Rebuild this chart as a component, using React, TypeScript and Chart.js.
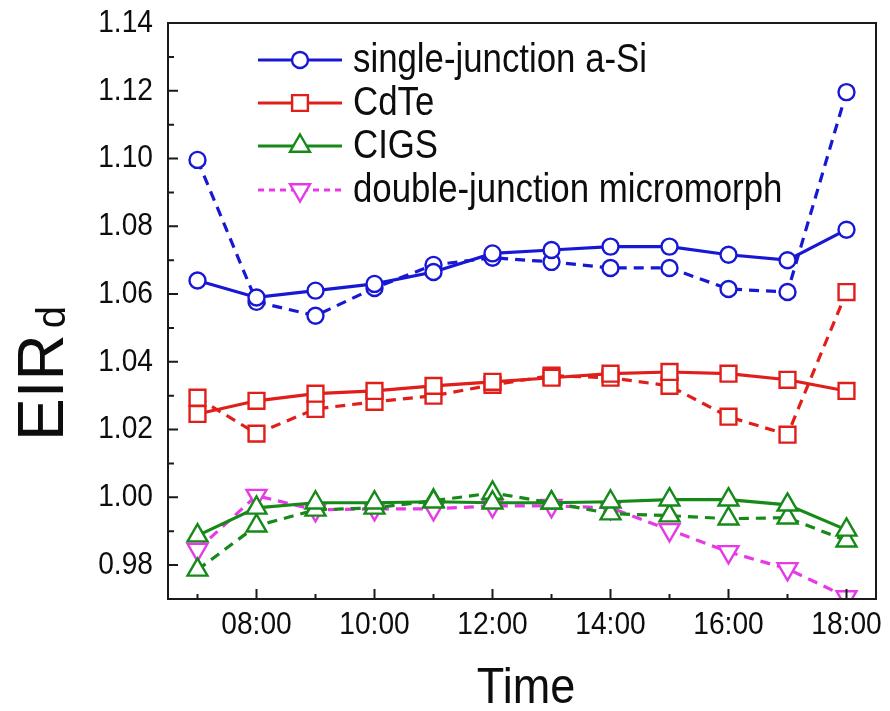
import React, { useEffect, useRef } from 'react';
import { Chart, registerables } from 'chart.js';

Chart.register(...registerables);

// ---- data ----
const hours = [7, 8, 9, 10, 11, 12, 13, 14, 15, 16, 17, 18];
const xTickHours = [8, 10, 12, 14, 16, 18];
const xTickLabels = ['08:00', '10:00', '12:00', '14:00', '16:00', '18:00'];
const yTickValues = [0.98, 1.0, 1.02, 1.04, 1.06, 1.08, 1.1, 1.12, 1.14];
const yTickLabels = ['0.98', '1.00', '1.02', '1.04', '1.06', '1.08', '1.10', '1.12', '1.14'];
const yMinorTicks = [0.97, 0.99, 1.01, 1.03, 1.05, 1.07, 1.09, 1.11, 1.13];

const aSiSolid = [1.064, 1.059, 1.061, 1.063, 1.0665, 1.072, 1.073, 1.074, 1.074, 1.0716, 1.070, 1.079];
const aSiDashed = [1.0996, 1.0577, 1.0536, 1.0618, 1.0686, 1.0707, 1.0695, 1.0677, 1.0677, 1.0615, 1.0606, 1.1196];
const cdteSolid = [1.0246, 1.0285, 1.0306, 1.0314, 1.0329, 1.0341, 1.0353, 1.0365, 1.037, 1.0365, 1.0347, 1.0314];
const cdteDashed = [1.0294, 1.0188, 1.0261, 1.0282, 1.03, 1.0332, 1.0359, 1.0353, 1.0329, 1.0238, 1.0185, 1.0606];
const cigsSolid = [0.9887, 0.9969, 0.9984, 0.9984, 0.9987, 0.9984, 0.9984, 0.9987, 0.9993, 0.9993, 0.9978, 0.9904];
const cigsDashed = [0.9786, 0.9916, 0.9963, 0.9969, 0.999, 1.0013, 0.9984, 0.9952, 0.9946, 0.9937, 0.994, 0.9872];
const micromorph = [0.9846, 1.0005, 0.9963, 0.9966, 0.9966, 0.9975, 0.9975, 0.9969, 0.9904, 0.9839, 0.9789, 0.9706];

const legendLabels = ['single-junction a-Si', 'CdTe', 'CIGS', 'double-junction micromorph'];
const xTitle = 'Time';
const yTitleMain = 'EIR';
const yTitleSub = 'd';

// ---- styles ----
const FONT = "'Liberation Sans', Arial, sans-serif";
const INK = '#0d0d0d';
const BLUE = '#1818d4';
const RED = '#e01e1a';
const GREEN = '#168a19';
const MAGENTA = '#e63ae6';
const DASH = [10, 7];

const legendStyles = [
  { color: BLUE, shape: 'circle', dash: [] as number[] },
  { color: RED, shape: 'rect', dash: [] as number[] },
  { color: GREEN, shape: 'triangle', dash: [] as number[] },
  { color: MAGENTA, shape: 'down', dash: [6, 5] },
];

function series(label: string, values: number[], color: string, shape: string, dashed: boolean, rotation = 0) {
  const radius = shape === 'circle' ? 8 : shape === 'rect' ? 11.2 : 11.5;
  return {
    label,
    data: hours.map((h, i) => ({ x: h, y: values[i] })),
    borderColor: color,
    backgroundColor: '#ffffff',
    borderWidth: 3.2,
    borderDash: dashed ? DASH : [],
    tension: 0,
    pointStyle: shape,
    pointRotation: rotation,
    pointRadius: radius,
    pointHoverRadius: radius,
    pointBorderWidth: 2.4,
    pointBackgroundColor: '#ffffff',
    pointBorderColor: color,
    clip: 0,
  };
}

function drawMarker(ctx: CanvasRenderingContext2D, shape: string, x: number, y: number) {
  ctx.beginPath();
  if (shape === 'circle') {
    ctx.arc(x, y, 8, 0, Math.PI * 2);
  } else if (shape === 'rect') {
    const s = 7.9;
    ctx.rect(x - s, y - s, 2 * s, 2 * s);
  } else {
    const r = 11.5;
    const rot = shape === 'down' ? Math.PI : 0;
    for (let k = 0; k < 3; k++) {
      const a = rot + (k * 2 * Math.PI) / 3;
      const px = x + Math.sin(a) * r;
      const py = y - Math.cos(a) * r;
      if (k === 0) ctx.moveTo(px, py);
      else ctx.lineTo(px, py);
    }
    ctx.closePath();
  }
  ctx.fill();
  ctx.stroke();
}

function squeezedText(
  ctx: CanvasRenderingContext2D,
  text: string,
  x: number,
  y: number,
  size: number,
  sx: number,
  align: CanvasTextAlign,
  baseline: CanvasTextBaseline,
) {
  ctx.save();
  ctx.translate(x, y);
  ctx.scale(sx, 1);
  ctx.font = `${size}px ${FONT}`;
  ctx.textAlign = align;
  ctx.textBaseline = baseline;
  ctx.fillStyle = INK;
  ctx.fillText(text, 0, 0);
  ctx.restore();
}

const decorPlugin = {
  id: 'decor',
  afterDraw(chart: any) {
    const { ctx, chartArea: a, scales } = chart;
    const xs = scales.x;
    const ys = scales.y;
    ctx.save();
    ctx.strokeStyle = '#1a1a1a';
    ctx.lineWidth = 2;
    ctx.setLineDash([]);
    ctx.beginPath();
    for (const h of hours) {
      const px = xs.getPixelForValue(h);
      const len = xTickHours.includes(h) ? 10 : 5;
      ctx.moveTo(px, a.bottom);
      ctx.lineTo(px, a.bottom - len);
    }
    for (const v of yTickValues) {
      const py = ys.getPixelForValue(v);
      ctx.moveTo(a.left, py);
      ctx.lineTo(a.left + 10, py);
    }
    for (const v of yMinorTicks) {
      const py = ys.getPixelForValue(v);
      ctx.moveTo(a.left, py);
      ctx.lineTo(a.left + 6, py);
    }
    ctx.stroke();
    ctx.strokeRect(a.left, a.top, a.right - a.left, a.bottom - a.top);

    // tick labels
    yTickValues.forEach((v, i) => {
      squeezedText(ctx, yTickLabels[i], a.left - 15, ys.getPixelForValue(v), 32, 0.88, 'right', 'middle');
    });
    xTickHours.forEach((h, i) => {
      squeezedText(ctx, xTickLabels[i], xs.getPixelForValue(h), a.bottom + 26, 32, 0.88, 'center', 'middle');
    });

    // x title
    squeezedText(ctx, xTitle, (a.left + a.right) / 2 + 4, 703, 50, 0.9, 'center', 'alphabetic');

    // legend
    const rowY = [60, 103, 146, 190];
    legendLabels.forEach((lab, i) => {
      const st = legendStyles[i];
      const y = rowY[i];
      ctx.strokeStyle = st.color;
      ctx.fillStyle = '#ffffff';
      ctx.lineWidth = 3.2;
      ctx.setLineDash(st.dash);
      ctx.beginPath();
      ctx.moveTo(258, y);
      ctx.lineTo(342, y);
      ctx.stroke();
      ctx.setLineDash([]);
      ctx.lineWidth = 2.4;
      drawMarker(ctx, st.shape, 300, y);
      squeezedText(ctx, lab, 353, y + 1, 40, 0.87, 'left', 'middle');
    });

    // y axis title EIR_d
    ctx.save();
    ctx.translate(63, 441);
    ctx.rotate(-Math.PI / 2);
    ctx.fillStyle = INK;
    ctx.textAlign = 'left';
    ctx.textBaseline = 'alphabetic';
    ctx.font = `64px ${FONT}`;
    ctx.fillText(yTitleMain, 0, 0);
    const w = ctx.measureText(yTitleMain).width;
    ctx.font = `40px ${FONT}`;
    ctx.fillText(yTitleSub, w + 6, 2);
    ctx.restore();

    ctx.restore();
  },
};

export default function App() {
  const ref = useRef<HTMLCanvasElement>(null);
  useEffect(() => {
    document.body.style.margin = '0';
    const chart = new Chart(ref.current as HTMLCanvasElement, {
      type: 'line',
      data: {
        datasets: [
          series('single-junction a-Si', aSiSolid, BLUE, 'circle', false),
          series('single-junction a-Si (dashed)', aSiDashed, BLUE, 'circle', true),
          series('CdTe', cdteSolid, RED, 'rect', false),
          series('CdTe (dashed)', cdteDashed, RED, 'rect', true),
          series('CIGS', cigsSolid, GREEN, 'triangle', false),
          series('CIGS (dashed)', cigsDashed, GREEN, 'triangle', true),
          series('double-junction micromorph', micromorph, MAGENTA, 'triangle', true, 180),
        ] as any,
      },
      options: {
        animation: false,
        responsive: false,
        layout: { padding: { left: 0, top: 23, right: 14, bottom: 0 } },
        plugins: { legend: { display: false }, tooltip: { enabled: false } },
        scales: {
          x: {
            type: 'linear',
            min: 6.5,
            max: 18.5,
            afterBuildTicks: (s: any) => {
              s.ticks = xTickHours.map((v) => ({ value: v }));
            },
            afterFit: (s: any) => {
              s.height = 112;
            },
            grid: { display: false },
            border: { display: false },
            ticks: { display: false },
          },
          y: {
            type: 'linear',
            min: 0.97,
            max: 1.14,
            afterBuildTicks: (s: any) => {
              s.ticks = yTickValues.map((v) => ({ value: v }));
            },
            afterFit: (s: any) => {
              s.width = 168;
            },
            grid: { display: false },
            border: { display: false },
            ticks: { display: false },
          },
        },
      } as any,
      plugins: [decorPlugin],
    });
    return () => chart.destroy();
  }, []);
  return (
    <div style={{ width: 890, height: 711 }}>
      <canvas ref={ref} width={890} height={711} style={{ display: 'block' }} />
    </div>
  );
}
